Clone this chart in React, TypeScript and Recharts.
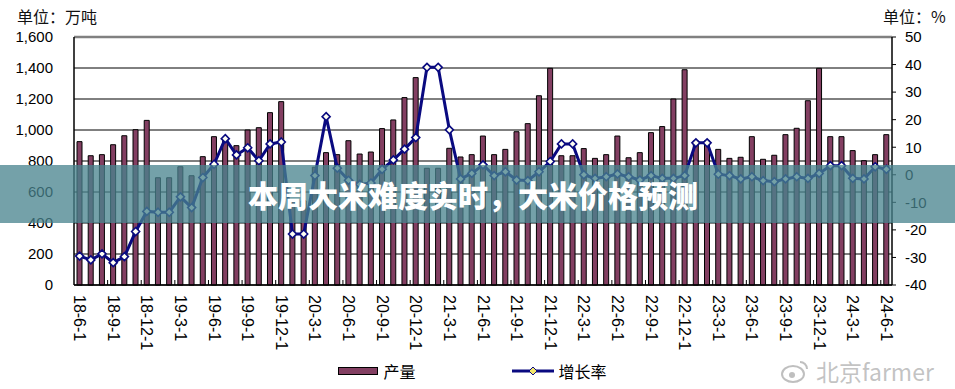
import React from 'react';
import { ComposedChart, Bar, Line, XAxis, YAxis, CartesianGrid, Legend, ReferenceLine } from 'recharts';

const months = [
  '18-6-1', '18-7-1', '18-8-1', '18-9-1', '18-10-1', '18-11-1', '18-12-1',
  '19-1-1', '19-2-1', '19-3-1', '19-4-1', '19-5-1', '19-6-1', '19-7-1', '19-8-1', '19-9-1', '19-10-1', '19-11-1', '19-12-1',
  '20-1-1', '20-2-1', '20-3-1', '20-4-1', '20-5-1', '20-6-1', '20-7-1', '20-8-1', '20-9-1', '20-10-1', '20-11-1', '20-12-1',
  '21-1-1', '21-2-1', '21-3-1', '21-4-1', '21-5-1', '21-6-1', '21-7-1', '21-8-1', '21-9-1', '21-10-1', '21-11-1', '21-12-1',
  '22-1-1', '22-2-1', '22-3-1', '22-4-1', '22-5-1', '22-6-1', '22-7-1', '22-8-1', '22-9-1', '22-10-1', '22-11-1', '22-12-1',
  '23-1-1', '23-2-1', '23-3-1', '23-4-1', '23-5-1', '23-6-1', '23-7-1', '23-8-1', '23-9-1', '23-10-1', '23-11-1', '23-12-1',
  '24-1-1', '24-2-1', '24-3-1', '24-4-1', '24-5-1', '24-6-1',
];

// 产量 (万吨)
const output = [
  925, 834, 841, 905, 963, 1002, 1062,
  692, 692, 763, 705, 828, 957, 935, 899, 1000, 1015, 1112, 1183,
  543, 543, 760, 854, 841, 931, 845, 858, 1009, 1065, 1209, 1338,
  753, 753, 882, 826, 841, 961, 841, 875, 989, 1041, 1221, 1398,
  834, 834, 880, 817, 841, 961, 821, 854, 983, 1022, 1200, 1389,
  930, 930, 875, 817, 824, 957, 811, 837, 970, 1011, 1189, 1398,
  957, 957, 867, 802, 841, 970,
];

// 增长率 (%)
const growth = [
  -29.5, -30.9, -28.7, -31.9, -29.7, -20.6, -13.3,
  -13.6, -13.6, -8.0, -11.9, -1.0, 3.8, 13.1, 7.2, 9.8, 5.1, 11.2, 11.9,
  -21.5, -21.5, -0.3, 21.1, 2.4, -2.0, -3.5, -3.0, 2.0, 5.4, 9.3, 13.5,
  39.0, 39.0, 16.3, -1.5, 0.5, 3.6, -0.3, 1.1, -1.9, -2.1, 1.1, 4.8,
  11.2, 11.2, 0.0, -1.3, -0.7, 0.3, -0.7, -1.9, -0.3, -1.3, -1.3, -0.3,
  11.6, 11.6, 0.2, -0.3, -1.5, -0.7, -2.1, -2.5, -1.5, -0.7, -1.3, 0.5,
  3.3, 3.3, -1.3, -1.5, 2.9, 2.0,
];

const leftTicks = [0, 200, 400, 600, 800, 1000, 1200, 1400, 1600];
const rightTicks = [-40, -30, -20, -10, 0, 10, 20, 30, 40, 50];

const data = months.map((m, i) => ({ month: m, 产量: output[i], 增长率: growth[i] }));

const W = 955;
const H = 389;
const LEFT_W = 74;
const RIGHT_W = 63;
const HALF_BAND = (W - LEFT_W - RIGHT_W) / months.length / 2;

const BAR_COLOR = '#833F62';
const LINE_COLOR = '#0A0A80';
const FONT = '"Liberation Sans", Arial, sans-serif';
const CJK = '"Noto Sans CJK SC", "Noto Sans", sans-serif';

const XTick = (props: any) => {
  const { x, y, payload } = props;
  const ty = y + 10;
  return (
    <g>
      {payload.index > 0 && (
        <line x1={x - HALF_BAND} x2={x - HALF_BAND} y1={y - 5} y2={y} stroke="#000" strokeWidth={1} />
      )}
      <text
        x={x}
        y={ty}
        transform={`rotate(90, ${x}, ${ty})`}
        textAnchor="start"
        dominantBaseline="central"
        fontSize={16}
        fontFamily={FONT}
        fill="#000"
      >
        {payload.value}
      </text>
    </g>
  );
};

const Diamond = (props: any) => {
  const { cx, cy, index } = props;
  if (cx == null || cy == null) return <g key={index} />;
  const r = 4;
  return (
    <path
      key={index}
      d={`M${cx},${cy - r}L${cx + r},${cy}L${cx},${cy + r}L${cx - r},${cy}Z`}
      fill="#FFFFF2"
      stroke={LINE_COLOR}
      strokeWidth={1.6}
    />
  );
};

const LegendContent = (props: any) => {
  const items = props.payload || [];
  return (
    <div
      style={{
        width: W,
        height: 26,
        display: 'flex',
        justifyContent: 'center',
        alignItems: 'center',
        gap: 96,
        fontFamily: CJK,
        fontSize: 16,
        color: '#000',
        paddingRight: 10,
        boxSizing: 'border-box',
      }}
    >
      {items.map((it: any) => (
        <div key={it.value} style={{ display: 'flex', alignItems: 'center', gap: 5 }}>
          {it.type === 'line' ? (
            <svg width={42} height={10}>
              <line x1={0} x2={42} y1={5} y2={5} stroke={LINE_COLOR} strokeWidth={3} />
              <path d="M21,1L25,5L21,9L17,5Z" fill="#F2E66A" stroke={LINE_COLOR} strokeWidth={1} />
            </svg>
          ) : (
            <div style={{ width: 38, height: 6, background: BAR_COLOR, border: '1.5px solid #000' }} />
          )}
          <span style={{ lineHeight: '20px' }}>{it.value}</span>
        </div>
      ))}
    </div>
  );
};

export default function App() {
  return (
    <div style={{ position: 'absolute', left: 0, top: 0, width: W, height: H, background: '#fff', overflow: 'hidden' }}>
      <ComposedChart
        width={W}
        height={H}
        data={data}
        margin={{ top: 37, right: 0, left: 0, bottom: 5 }}
        barCategoryGap={0}
      >
        <CartesianGrid yAxisId="left" vertical={false} stroke="#000" strokeWidth={1} />
        <XAxis
          dataKey="month"
          interval={2}
          height={73}
          tickSize={0}
          tickMargin={0}
          tick={<XTick />}
          axisLine={{ stroke: '#000', strokeWidth: 1.5 }}
          tickLine={false}
        />
        <YAxis
          yAxisId="left"
          width={LEFT_W}
          domain={[0, 1600]}
          ticks={leftTicks}
          interval={0}
          tickFormatter={(v: number) => v.toLocaleString('en-US')}
          tickLine={false}
          tickSize={0}
          tickMargin={21}
          axisLine={{ stroke: '#000', strokeWidth: 1.5 }}
          tick={{ fontSize: 15, fill: '#000', fontFamily: FONT }}
        />
        <YAxis
          yAxisId="right"
          orientation="right"
          width={RIGHT_W}
          domain={[-40, 50]}
          ticks={rightTicks}
          interval={0}
          tickSize={4}
          tickMargin={9}
          tickLine={{ stroke: '#000' }}
          axisLine={{ stroke: '#000', strokeWidth: 1.5 }}
          tick={{ fontSize: 15, fill: '#000', fontFamily: FONT, textAnchor: 'start' }}
        />
        <ReferenceLine yAxisId="left" y={1600} stroke="#808080" strokeWidth={2.5} />
        <Bar
          yAxisId="left"
          dataKey="产量"
          fill={BAR_COLOR}
          stroke="#000"
          strokeWidth={1}
          barSize={5}
          isAnimationActive={false}
          legendType="rect"
        />
        <Line
          yAxisId="right"
          type="linear"
          dataKey="增长率"
          stroke={LINE_COLOR}
          strokeWidth={3}
          dot={<Diamond />}
          activeDot={false}
          isAnimationActive={false}
          legendType="line"
        />
        <Legend verticalAlign="bottom" height={26} content={<LegendContent />} />
      </ComposedChart>

      <div style={{ position: 'absolute', left: 17, top: 8, fontFamily: CJK, fontSize: 16, lineHeight: '16px', color: '#111' }}>单位：万吨</div>
      <div style={{ position: 'absolute', left: 883, top: 8, fontFamily: CJK, fontSize: 16, lineHeight: '16px', color: '#111' }}>单位：%</div>

      <div
        style={{
          position: 'absolute',
          left: 0,
          top: 165,
          width: W,
          height: 58,
          background: 'rgba(72,132,142,0.76)',
          display: 'flex',
          alignItems: 'center',
          justifyContent: 'center',
          paddingRight: 9,
          boxSizing: 'border-box',
          color: '#fff',
          fontFamily: CJK,
          fontWeight: 900,
          fontSize: 30,
        }}
      >
        本周大米难度实时，大米价格预测
      </div>

      <div
        style={{
          position: 'absolute',
          left: 780,
          top: 354,
          display: 'flex',
          alignItems: 'center',
          gap: 6,
          color: 'rgba(175,175,175,0.75)',
          fontFamily: CJK,
          fontSize: 23,
          textShadow: '0 0 2px #fff',
        }}
      >
        <svg width={30} height={26}>
          <ellipse cx={13} cy={16} rx={11} ry={8} fill="none" stroke="rgba(175,175,175,0.8)" strokeWidth={2} />
          <circle cx={12} cy={17} r={3} fill="rgba(175,175,175,0.8)" />
          <path d="M20,4 A7,7 0 0 1 27,11" fill="none" stroke="rgba(175,175,175,0.8)" strokeWidth={2} />
        </svg>
        <span>北京farmer</span>
      </div>
    </div>
  );
}
